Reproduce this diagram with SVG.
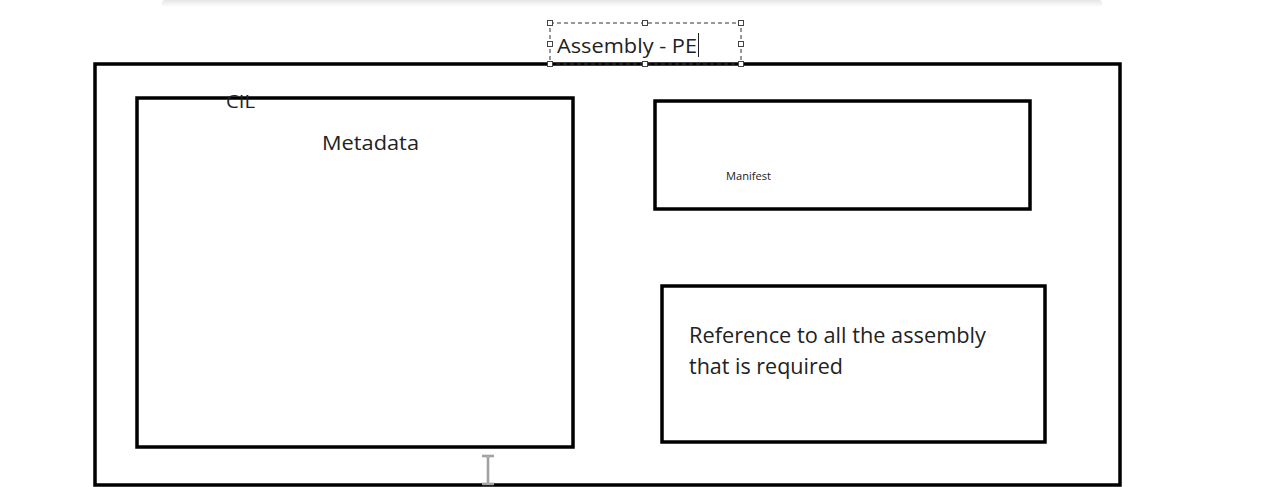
<svg xmlns="http://www.w3.org/2000/svg" width="1280" height="487" viewBox="0 0 1280 487">
<style>
.box{fill:none;stroke:#000;stroke-width:3.5}
.t{font-family:"Open Sans","Liberation Sans",sans-serif;fill:#222}
.h{fill:#fff;stroke:#444;stroke-width:1}
</style>
<defs>
<linearGradient id="sh" x1="0" y1="0" x2="0" y2="1">
<stop offset="0" stop-color="#e4e6e6"/>
<stop offset="1" stop-color="#ffffff"/>
</linearGradient>
</defs>
<rect width="1280" height="487" fill="#fff"/>
<rect x="162" y="0" width="940" height="7" rx="3" fill="url(#sh)"/>
<g id="assembly">
<rect class="box" x="95" y="64" width="1025" height="421"/>
</g>
<g id="cil">
<rect class="box" x="137" y="98" width="436" height="349"/>
<text class="t" x="226" y="108" font-size="18" textLength="29" lengthAdjust="spacingAndGlyphs">CIL</text>
<text class="t" x="322" y="150" font-size="20" textLength="97" lengthAdjust="spacingAndGlyphs">Metadata</text>
</g>
<g id="manifest">
<rect class="box" x="655" y="101" width="375" height="108"/>
<text class="t" x="726" y="180" font-size="11" textLength="45" lengthAdjust="spacingAndGlyphs">Manifest</text>
</g>
<g id="reference">
<rect class="box" x="662" y="286" width="383" height="156"/>
<text class="t" x="689" y="343" font-size="21" textLength="297" lengthAdjust="spacingAndGlyphs">Reference to all the assembly</text>
<text class="t" x="689" y="374" font-size="21" textLength="154" lengthAdjust="spacingAndGlyphs">that is required</text>
</g>
<g id="title">
<rect x="550" y="23" width="191" height="41" fill="none" stroke="#333" stroke-width="1" stroke-dasharray="4 3"/>
<rect class="h" x="547.5" y="20.5" width="5" height="5"/>
<rect class="h" x="642.5" y="20.5" width="5" height="5"/>
<rect class="h" x="738.5" y="20.5" width="5" height="5"/>
<rect class="h" x="547.5" y="41.5" width="5" height="5"/>
<rect class="h" x="738.5" y="41.5" width="5" height="5"/>
<rect class="h" x="547.5" y="61.5" width="5" height="5"/>
<rect class="h" x="642.5" y="61.5" width="5" height="5"/>
<rect class="h" x="738.5" y="61.5" width="5" height="5"/>
<text class="t" x="557" y="53" font-size="20" textLength="140" lengthAdjust="spacingAndGlyphs">Assembly - PE</text>
<line x1="698.5" y1="33" x2="698.5" y2="57" stroke="#222" stroke-width="1"/>
</g>
<g id="cursor" stroke="#888" fill="none">
<path d="M482 456 H494 M488 456 V484 M482 484 H494" stroke-width="2.5"/>
<path d="M482 456 H494 M488 456 V484 M482 484 H494" stroke="#ccc" stroke-width="0.8"/>
</g>
</svg>
